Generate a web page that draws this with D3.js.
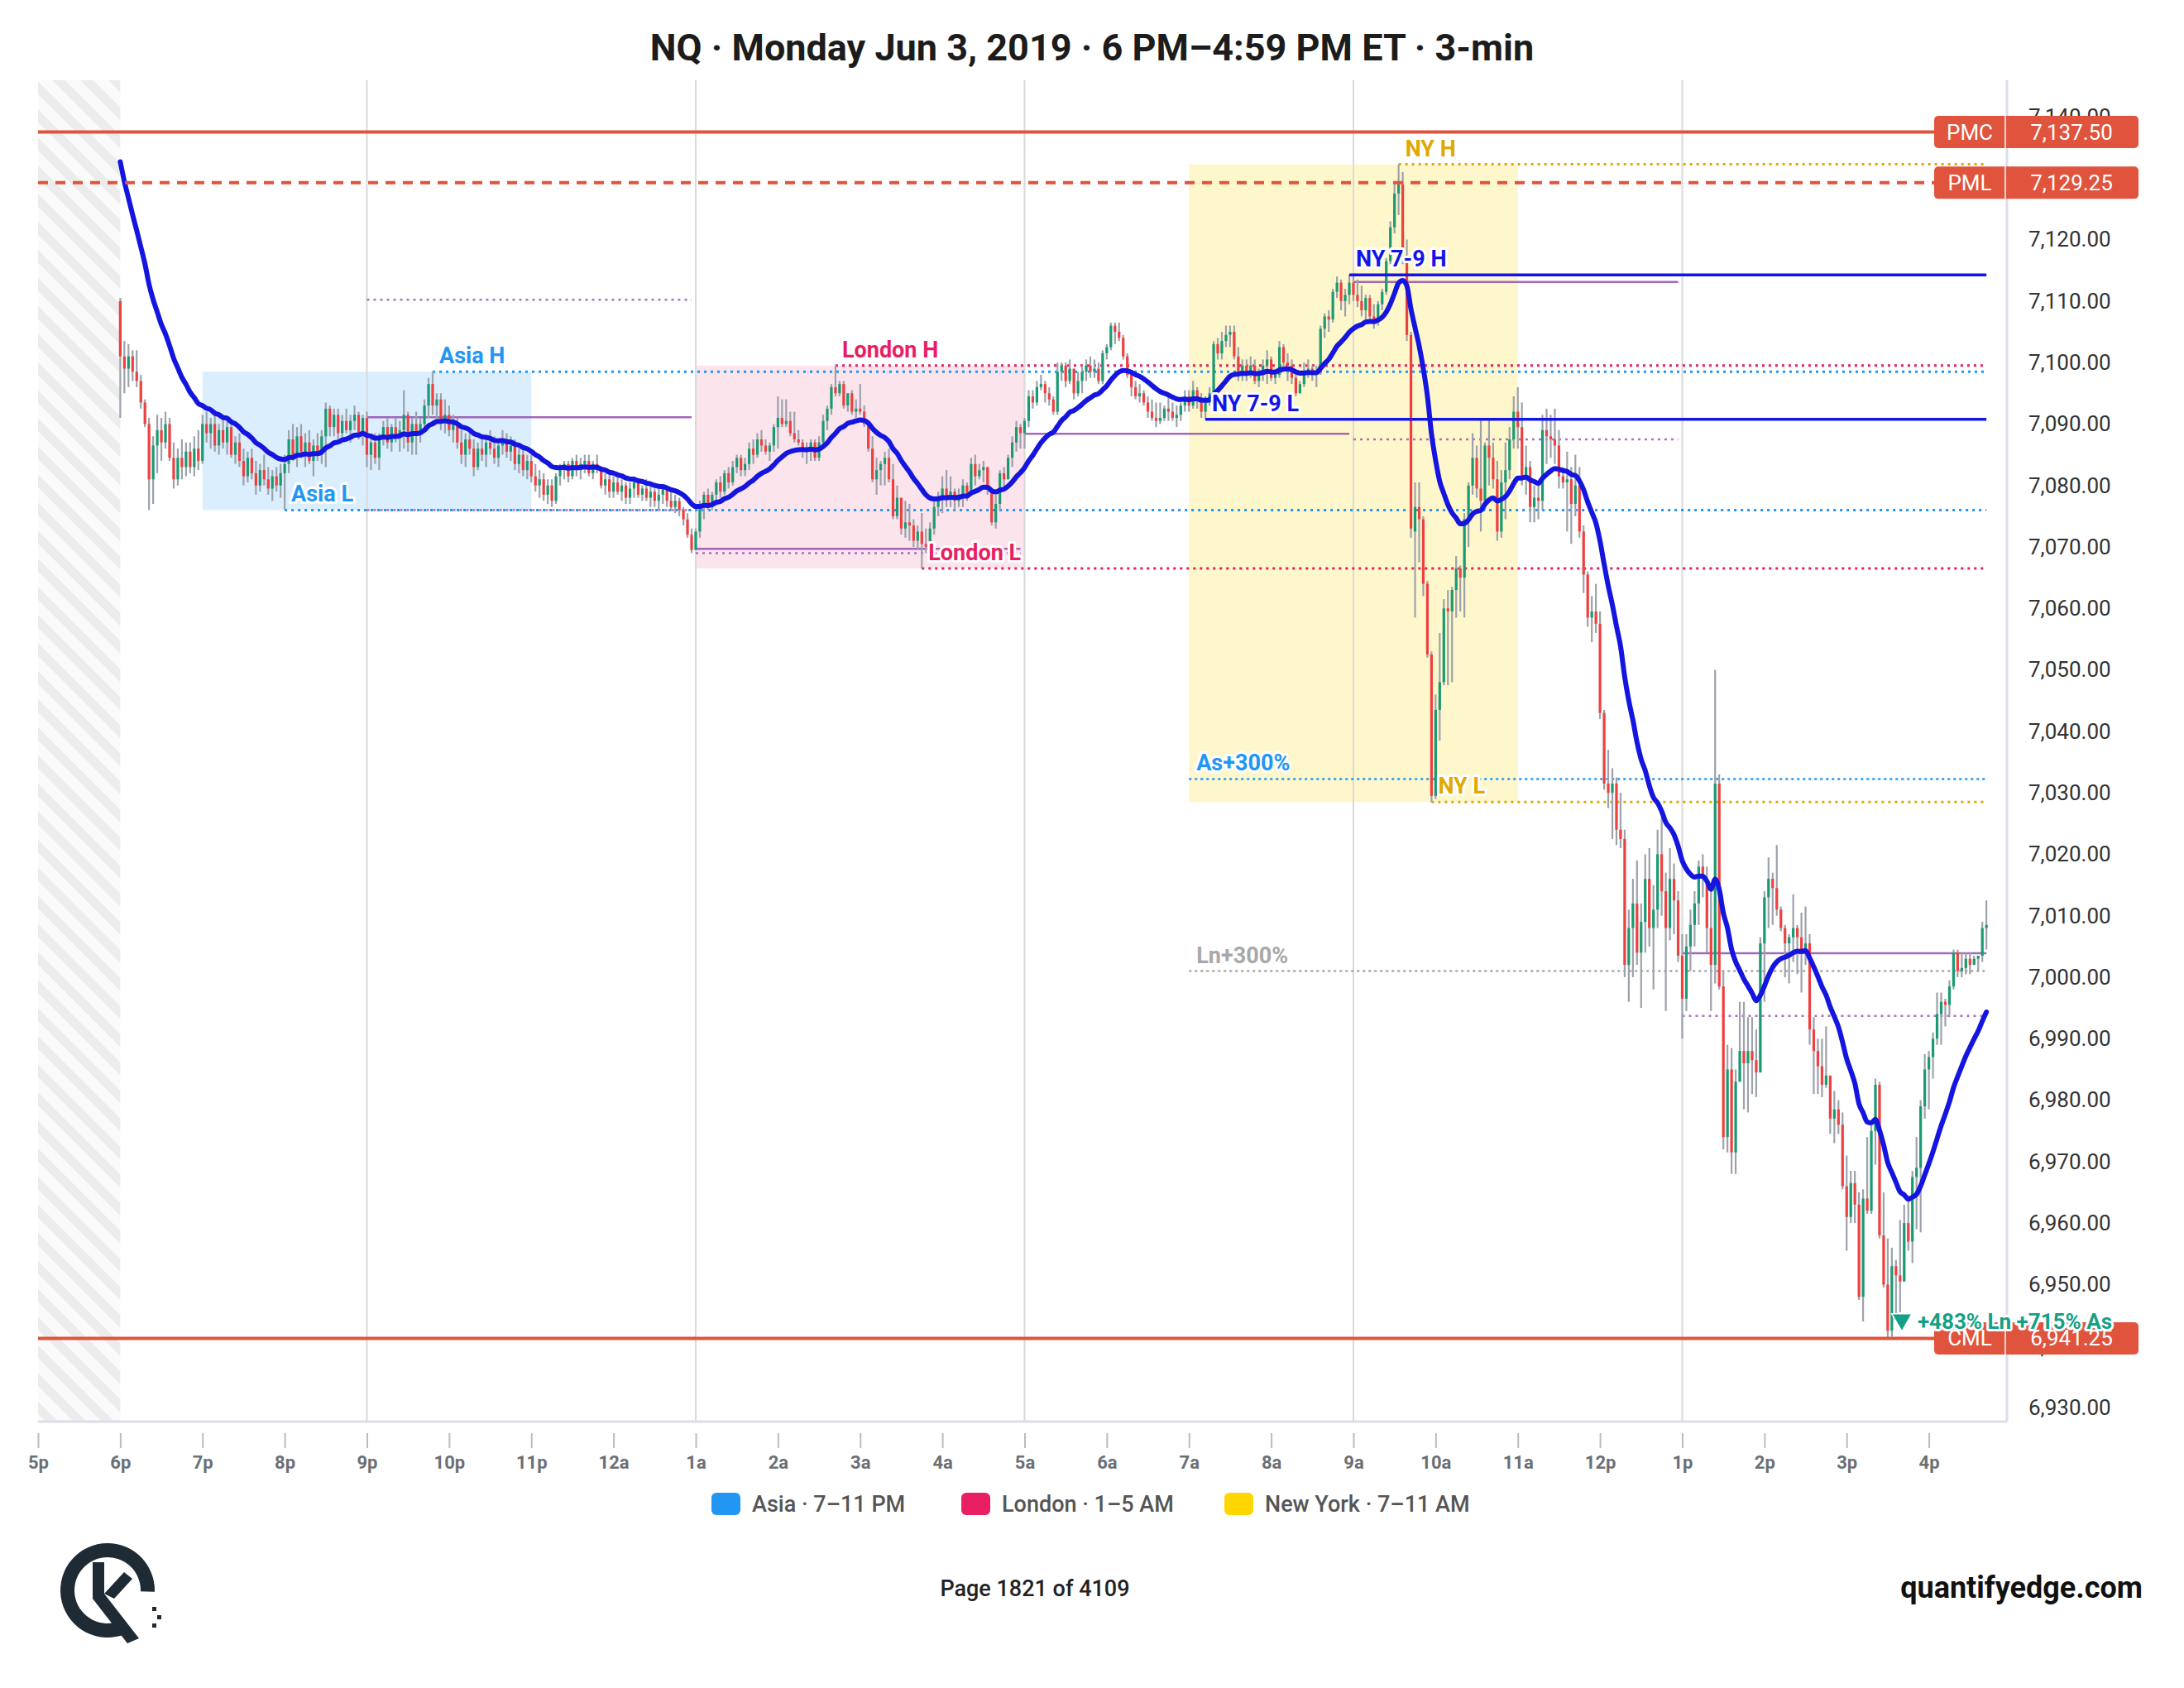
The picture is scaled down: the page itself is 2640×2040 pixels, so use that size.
<!DOCTYPE html>
<html><head><meta charset="utf-8">
<script src="https://cdn.jsdelivr.net/npm/d3@7"></script>
<style>
body{margin:0;background:#fff;}
svg{display:block;font-family:Roboto,"Noto Sans",sans-serif;}
</style></head><body>
<svg id="chart" width="2640" height="2040"></svg>
<script>
// ---------------- DATA ----------------
// 3-minute bars [open, high, low, close], first bar 6:00 PM ET, grouped by hour
const b18=[[7110,7110.5,7091,7101],[7101,7103.5,7095,7099],[7099,7103,7096,7101],[7101,7102,7097,7098.5],[7098.5,7102,7096,7097],[7097,7098,7092.5,7093.5],[7093.5,7094,7089.5,7090],[7090,7091,7076,7081],[7081,7088,7077,7086.5],[7086.5,7091.5,7082,7089],[7089,7091,7084,7087],[7087,7092,7086,7090],[7090,7091,7084,7084.5],[7084.5,7087,7079.5,7081],[7081,7086,7080,7084.5],[7084.5,7087.5,7081,7083],[7083,7087,7081.5,7085.5],[7085.5,7087,7082,7083],[7083,7088,7081.5,7086],[7086,7089,7082.5,7084]];
const b19=[[7084,7091.5,7083.5,7090],[7090,7092,7087,7088.5],[7088.5,7091,7086,7090],[7090,7091.5,7085.5,7086.5],[7086.5,7090,7085,7089],[7089,7091,7086,7087],[7087,7090.5,7085,7089.5],[7089.5,7090.5,7084.5,7085],[7085,7088,7083.5,7087],[7087,7088.5,7083,7084],[7084,7086,7080,7081.5],[7081.5,7085.5,7080.5,7084.5],[7084.5,7086,7081,7082],[7082,7084,7078.5,7080],[7080,7083.5,7079,7082.5],[7082.5,7085,7080,7081],[7081,7083,7078.5,7079.5],[7079.5,7082.5,7077.5,7081.5],[7081.5,7083,7079,7080],[7080,7083.5,7078,7082]];
const b20=[[7082,7085,7076,7083.5],[7083.5,7089,7082,7087.5],[7087.5,7090,7084,7085],[7085,7089.5,7083,7088],[7088,7090,7084.5,7085.5],[7085.5,7088.5,7083,7087],[7087,7089,7083.5,7084],[7084,7087.5,7081.5,7086.5],[7086.5,7088.5,7084,7085],[7085,7089,7083.5,7088],[7088,7093.5,7083,7092.5],[7092.5,7093,7088,7089.5],[7089.5,7092.5,7088,7091.5],[7091.5,7092.5,7087,7088.5],[7088.5,7091.5,7087.5,7090.5],[7090.5,7092.5,7088.5,7089],[7089,7091.5,7087,7090.5],[7090.5,7093,7089,7091.5],[7091.5,7092,7087.5,7088.5],[7088.5,7091.5,7086.5,7091]];
const b21=[[7091,7092,7083,7085],[7085,7088,7082.5,7087],[7087,7088.5,7083.5,7084.5],[7084.5,7088.5,7082.5,7088],[7088,7090.5,7086.5,7089.5],[7089.5,7091,7086,7087],[7087,7090,7085.5,7089.5],[7089.5,7091,7087,7088],[7088,7090.5,7085.5,7089],[7089,7095.5,7086,7091.5],[7091.5,7092,7085.5,7087],[7087,7091,7085,7090],[7090,7092,7085,7088.5],[7088.5,7091,7087,7090],[7090,7094,7089,7093],[7093,7097.5,7091,7096.5],[7096.5,7098.5,7091.5,7093],[7093,7095,7090,7094],[7094,7095,7089,7090.5],[7090.5,7094,7088.5,7091.5]];
const b22=[[7091.5,7093,7088,7089],[7089,7091.5,7087,7090],[7090,7091,7086,7087],[7087,7089,7083.5,7085],[7085,7088.5,7083,7087.5],[7087.5,7089,7085,7086],[7086,7087.5,7081.5,7083],[7083,7087,7082.5,7086],[7086,7088,7084,7085],[7085,7087.5,7083,7087],[7087,7089,7085,7086],[7086,7088,7083.5,7084.5],[7084.5,7087,7083,7086.5],[7086.5,7089,7085,7087.5],[7087.5,7088.5,7084.5,7085.5],[7085.5,7088,7084,7086.5],[7086.5,7087.5,7082.5,7083.5],[7083.5,7086,7082,7085],[7085,7086,7081.5,7082.5],[7082.5,7085,7081,7084]];
const b23=[[7084,7085,7080.5,7081.5],[7081.5,7083.5,7079,7080],[7080,7082.5,7078,7081],[7081,7082,7077.5,7078.5],[7078.5,7081,7077,7080],[7080,7081,7076.5,7077.5],[7077.5,7082,7077,7081.5],[7081.5,7083.5,7080,7082.5],[7082.5,7084,7081,7083.5],[7083.5,7084,7080.5,7081.5],[7081.5,7084.5,7081,7084],[7084,7085,7081.5,7082.5],[7082.5,7084.5,7081,7083.5],[7083.5,7085,7082,7084],[7084,7085,7081.5,7082],[7082,7084,7081,7083.5],[7083.5,7085,7082,7082.5],[7082.5,7083,7079.5,7080],[7080,7082,7078.5,7081],[7081,7082,7078,7079]];
const b00=[[7079,7081.5,7078,7080.5],[7080.5,7081.5,7078.5,7079],[7079,7081,7077.5,7080],[7080,7080.5,7077,7078],[7078,7080.5,7077,7079.5],[7079.5,7081.5,7078,7080.5],[7080.5,7081,7078,7078.5],[7078.5,7080,7077.5,7079.5],[7079.5,7081,7077.5,7078],[7078,7080,7076.5,7079],[7079,7079.5,7076.5,7077.5],[7077.5,7079.5,7076,7078.5],[7078.5,7080,7077,7079.5],[7079.5,7080,7076.5,7077.5],[7077.5,7079,7076,7076.5],[7076.5,7078.5,7075.5,7077.5],[7077.5,7078,7075,7076],[7076,7076.5,7073.5,7074.5],[7074.5,7075.5,7071.5,7072],[7072,7073,7069,7069.5]];
const b01=[[7069.5,7073,7069.5,7072.5],[7072.5,7077.5,7071.5,7076.5],[7076.5,7079,7074.5,7078.5],[7078.5,7079.5,7076,7076.5],[7076.5,7079,7076,7078.5],[7078.5,7081,7077.5,7080.5],[7080.5,7081.5,7078,7079],[7079,7082.5,7078.5,7082],[7082,7083,7079.5,7080.5],[7080.5,7084,7080,7083],[7083,7085,7082,7084.5],[7084.5,7085,7081.5,7082.5],[7082.5,7084.5,7081.5,7083.5],[7083.5,7087,7082.5,7086],[7086,7087.5,7083.5,7085],[7085,7088.5,7084.5,7087.5],[7087.5,7089,7085.5,7086.5],[7086.5,7087.5,7085,7085.5],[7085.5,7087,7084,7086.5],[7086.5,7090,7085.5,7089.5]];
const b02=[[7089.5,7094.5,7086,7091],[7091,7094,7089.5,7090],[7090,7094,7089.5,7090.5],[7090.5,7092,7088,7088.5],[7088.5,7092,7087,7087.5],[7087.5,7089,7086.5,7087],[7087,7087.5,7084.5,7086],[7086,7087,7083.5,7085.5],[7085.5,7087.5,7084,7087],[7087,7087.5,7084,7084.5],[7084.5,7088,7084,7087],[7087,7091.5,7086.5,7090.5],[7090.5,7093,7089,7092.5],[7092.5,7096.5,7091.5,7096],[7096,7099.5,7094.5,7095],[7095,7097,7094.5,7096.5],[7096.5,7097,7092.5,7093],[7093,7095,7092,7095],[7095,7095.5,7091.5,7092],[7092,7094,7091,7092.5]];
const b03=[[7092.5,7096.5,7091.5,7092],[7092,7093,7089.5,7090],[7090,7090.5,7085.5,7086],[7086,7088,7080.5,7081],[7081,7084.5,7078.5,7082.5],[7082.5,7084,7080,7083.5],[7083.5,7085.5,7080,7084.5],[7084.5,7086,7080.5,7081],[7081,7083.5,7074.5,7075],[7075,7080,7074.5,7078],[7078,7078,7072,7073],[7073,7077.5,7071.5,7074],[7074,7077,7071,7073.5],[7073.5,7074.5,7070,7071],[7071,7073.5,7069.5,7072.5],[7072.5,7075.5,7066.5,7070.5],[7070.5,7073,7069,7070],[7070,7074,7070,7073],[7073,7077.5,7072,7076.5],[7076.5,7079,7075,7078]];
const b04=[[7078,7081.5,7075.5,7079.5],[7079.5,7082.5,7076.5,7078],[7078,7081.5,7076.5,7079],[7079,7079.5,7076,7077.5],[7077.5,7079.5,7076.5,7078.5],[7078.5,7081,7076.5,7080],[7080,7080.5,7077.5,7078.5],[7078.5,7084.5,7078.5,7083.5],[7083.5,7085,7080,7081.5],[7081.5,7083.5,7081,7082.5],[7082.5,7084,7080.5,7083],[7083,7083,7078.5,7079.5],[7079.5,7079.5,7073.5,7074],[7074,7078.5,7073,7077],[7077,7082.5,7076,7082],[7082,7083,7079.5,7081],[7081,7085,7081,7084.5],[7084.5,7088,7083,7087],[7087,7090.5,7085.5,7089.5],[7089.5,7090,7086,7088.5]];
const b05=[[7088.5,7091,7086,7090.5],[7090.5,7095.5,7089.5,7094.5],[7094.5,7095.5,7092.5,7093.5],[7093.5,7097,7093,7096],[7096,7098,7095.5,7096.5],[7096.5,7097,7093.5,7095],[7095,7096,7093,7094],[7094,7094.5,7091.5,7092],[7092,7100,7091.5,7098.5],[7098.5,7100,7097,7099.5],[7099.5,7100,7096,7097],[7097,7100.5,7096.5,7099],[7099,7099,7094,7095],[7095,7098.5,7094.5,7097],[7097,7099.5,7095,7098.5],[7098.5,7100.5,7097,7099.5],[7099.5,7101,7097.5,7098.5],[7098.5,7100.5,7097.5,7099],[7099,7100,7096.5,7097],[7097,7102,7096.5,7101.5]];
const b06=[[7101.5,7103,7100.5,7102.5],[7102.5,7106.5,7102,7106],[7106,7106.5,7103,7105],[7105,7106.5,7103.5,7104],[7104,7104.5,7100.5,7101],[7101,7101.5,7097.5,7098],[7098,7098.5,7094.5,7096],[7096,7097,7094,7094.5],[7094.5,7096.5,7093.5,7095],[7095,7095.5,7093,7093.5],[7093.5,7094.5,7091,7092],[7092,7094,7090.5,7091],[7091,7093.5,7089.5,7090.5],[7090.5,7093.5,7090,7091],[7091,7093,7090.5,7092.5],[7092.5,7095,7090.5,7092],[7092,7093.5,7090.5,7091],[7091,7093,7089.5,7091.5],[7091.5,7093.5,7090.5,7093],[7093,7095.5,7092,7094.5]];
const b07=[[7094.5,7095.5,7092,7093],[7093,7097,7092.5,7095.5],[7095.5,7096,7092.5,7094],[7094,7095,7091,7092],[7092,7094.5,7090.75,7093.5],[7093.5,7096,7093,7095],[7095,7103.5,7094.5,7103],[7103,7104,7100.5,7101.5],[7101.5,7105,7100.5,7103.5],[7103.5,7106,7102.5,7104.5],[7104.5,7106,7102.5,7105],[7105,7106,7100.5,7101],[7101,7102.5,7097,7098.5],[7098.5,7100.5,7097,7099.5],[7099.5,7100.5,7097,7098],[7098,7101,7097.5,7099.5],[7099.5,7100.5,7096.5,7097],[7097,7099,7096,7098.5],[7098.5,7100.5,7097,7099.5],[7099.5,7102,7096.5,7100.5]];
const b08=[[7100.5,7101,7097,7097.5],[7097.5,7099,7096.5,7098],[7098,7103.5,7097.5,7102.5],[7102.5,7103,7098.5,7100],[7100,7101.5,7097,7099.5],[7099.5,7100.5,7096.5,7097.5],[7097.5,7098.5,7094.5,7095],[7095,7097,7095,7096.5],[7096.5,7100,7096,7098.5],[7098.5,7100.5,7097.5,7099],[7099,7099.5,7097,7098],[7098,7099.5,7096,7098.5],[7098.5,7106,7098,7105.5],[7105.5,7108,7104,7107.5],[7107.5,7108.5,7105,7107],[7107,7112,7106.5,7111.5],[7111.5,7114,7110.5,7113],[7113,7113.5,7108.5,7110],[7110,7112,7107.5,7111],[7111,7114.25,7109.5,7113]];
const b09=[[7113,7114.5,7110,7111],[7111,7113.5,7109,7110],[7110,7112.5,7107.5,7108.5],[7108.5,7111,7107,7110.5],[7110.5,7111,7106.5,7107.5],[7107.5,7109.5,7105.5,7106.5],[7106.5,7110,7106,7109.5],[7109.5,7112,7108.5,7111.5],[7111.5,7117,7111,7116.5],[7116.5,7123,7116,7122],[7122,7129,7121,7127.5],[7127.5,7132.25,7124,7129],[7129,7131,7116,7117],[7117,7120,7103.5,7104.5],[7104.5,7105,7071.5,7073],[7072.5,7080.5,7058.5,7076.5],[7076.5,7080.5,7067.5,7074.5],[7074.5,7075,7062,7064],[7064,7064.5,7052,7052.5],[7052.5,7053,7028.5,7029.5]];
const b10=[[7029.5,7046,7029,7043.5],[7043.5,7056,7038.5,7048],[7048,7061.5,7047.5,7060],[7060,7063,7047.5,7059.5],[7059.5,7063.5,7048,7063],[7063,7068.5,7058.5,7066.5],[7066.5,7067,7059.5,7065],[7065,7075.5,7058.5,7074.5],[7074.5,7080.5,7070,7080],[7080,7088.5,7078.5,7084.5],[7084.5,7086.5,7078,7079.5],[7079.5,7091,7072.5,7077.5],[7077.5,7087,7076,7086.5],[7086.5,7091,7080,7084.5],[7084.5,7087,7079.5,7081],[7081,7084,7071,7072.5],[7072.5,7082.5,7071.5,7080.5],[7080.5,7087,7074.5,7082.5],[7082.5,7089.5,7081,7087.5],[7087.5,7094.5,7086,7092]];
const b11=[[7092,7096,7086,7089.5],[7089.5,7093.5,7080,7081.5],[7081.5,7086.5,7078.5,7083],[7083,7084,7074,7076.5],[7076.5,7080,7074,7078],[7078,7080.5,7074.5,7077.5],[7077.5,7091.5,7076,7089],[7089,7092.5,7083.5,7088],[7088,7091.5,7084.5,7087.5],[7087.5,7092.5,7083.5,7086.5],[7086.5,7089,7079.5,7081.5],[7081.5,7083,7079.5,7080.5],[7080.5,7085.5,7072.5,7081],[7081,7083,7070.5,7077],[7077,7085,7075,7080],[7080,7083,7071.5,7072.5],[7072.5,7073.5,7062.5,7065.5],[7065.5,7066,7057,7058.5],[7058.5,7062,7054.5,7059.5],[7059.5,7064,7056,7057.5]];
const b12=[[7057.5,7059.5,7042,7043],[7043,7043.5,7030.5,7031.5],[7031.5,7037,7027.5,7030],[7030,7034,7022.5,7031.5],[7031.5,7032.5,7021.5,7024],[7024,7030,7021,7022.5],[7022.5,7024,7000,7002],[7002,7011,6996,7008],[7008,7016,7000,7012],[7012,7019,7002,7004],[7004,7012,6995,7009],[7009,7020,7004,7016],[7016,7021,7005,7008],[7008,7015,6998,7011],[7011,7024,7008,7020],[7020,7026,7010,7014],[7014,7017,6994.5,7008],[7008,7021,7006,7016],[7016,7018.5,7007,7012.5],[7012.5,7014,7002.5,7003.5]];
const b13=[[7003.5,7007,6990,6996.5],[6996.5,7007,6994.5,7005],[7005,7011,7001,7008.5],[7008.5,7014,7005,7012],[7012,7019,7008.5,7018],[7018,7020,7013,7016],[7016,7018,7004,7008],[7008,7014,6994.5,7002],[7002,7050,6999,7031.5],[7031.5,7033,6998,6998.5],[6998.5,7001,6972,6974],[6974,6989,6971.5,6985],[6985,6988.5,6968,6971.5],[6971.5,6985,6968,6983],[6983,6996,6983,6988],[6988,6996,6978.5,6986],[6986,6993.5,6978,6988],[6988,6993.5,6981,6986.5],[6986.5,6991.5,6980.5,6984.5],[6984.5,7006.5,6984.5,7005.5]];
const b14=[[7005.5,7014,6996,7013],[7013,7019.5,7008,7016],[7016,7017,7008.5,7014.5],[7014.5,7021.5,7010,7011],[7011,7011.5,7007.5,7008],[7008,7008.5,7000,7005.5],[7005.5,7007,6999,7006.5],[7006.5,7013.5,7002.5,7008],[7008,7008.5,7000.5,7006.5],[7006.5,7010.5,6997.5,7004],[7004,7011.5,7002,7005.5],[7005.5,7007,6989,6991.5],[6991.5,6993.5,6981,6988],[6988,6990,6981,6985.5],[6985.5,6990,6980.5,6982.5],[6982.5,6992,6982,6984],[6984,6984,6974.5,6977],[6977,6981.5,6973,6978.5],[6978.5,6980,6974.5,6976],[6976,6978,6965.5,6966]];
const b15=[[6966,6971,6955.5,6961],[6961,6968.5,6960,6966.5],[6966.5,6968.5,6960,6963],[6963,6965,6947.5,6948],[6948,6965.5,6944,6964],[6964,6974,6961.5,6962],[6962,6976.5,6961.5,6975],[6975,6983.5,6969.5,6982.5],[6982.5,6983,6957.5,6958],[6958,6965,6949.5,6950],[6950,6957.5,6941.25,6942.5],[6942.5,6956,6941.5,6953],[6953,6954,6944,6951.5],[6951.5,6960.5,6945.5,6950.5],[6950.5,6963,6950.5,6960],[6960,6964.5,6955.5,6957],[6957,6968.5,6953.5,6967.5],[6967.5,6974,6959,6969],[6969,6980,6958.5,6979],[6979,6987.5,6977,6985]];
const b16=[[6985,6988,6978.5,6987],[6987,6991,6983.5,6990],[6990,6997.5,6989,6994],[6994,6997.5,6989,6996],[6996,6996.5,6992,6995.5],[6995.5,6999.5,6993.5,6998.5],[6998.5,7004.5,6998,7004],[7004,7004.5,7000,7001],[7001,7004,7000,7001.5],[7001.5,7004,7000.5,7003],[7003,7004,7000.5,7002],[7002,7003.5,7002,7003],[7003,7003.5,7001,7003.5],[7003.5,7009,7002.5,7008],[7008,7012.5,7004.5,7008.5]];

const barMinutes = 3;            // bar size
const firstBarMin = 60;          // first bar at 6 PM = 60 min after 5 PM
const emaPeriod = 20;
const emaPrior = 7136;           // moving average value carried in from prior session

// x-axis hour labels (5 PM .. 4 PM)
const hourLabels = ["5p","6p","7p","8p","9p","10p","11p","12a","1a","2a","3a","4a","5a","6a","7a","8a","9a","10a","11a","12p","1p","2p","3p","4p"];
const gridHours = [4, 8, 12, 16, 20];   // hours after 5 PM with vertical grid lines
const yTicks = d3.range(6930, 7140.01, 10);

// sessions
const sessionNames = ["Asia · 7–11 PM","London · 1–5 AM","New York · 7–11 AM"];
const sessionStartMin = [120, 480, 840];
const sessionEndMin = [360, 720, 1080];
const sessionHigh = [7098.5, 7099.5, 7132.25];
const sessionLow = [7076, 7066.5, 7028.5];

// session level lines (label, value, bar where level was set)
const levelLabels = ["Asia H","Asia L","London H","London L","NY H","NY L","NY 7-9 H","NY 7-9 L"];
const levelValues = [7098.5, 7076, 7099.5, 7066.5, 7132.25, 7028.5, 7114.25, 7090.75];
const levelBars = [76, 40, 174, 195, 311, 319, 299, 264];
const levelKind = ["asia","asia","london","london","ny","ny","ny79","ny79"];

// range extensions from 7 AM
const extLabels = ["As+300%","Ln+300%"];
const extValues = [7032.25, 7001];
const extStartMin = 840;

// prior / current day markers
const markLabels = ["PMC","PML","CML"];
const markValues = [7137.5, 7129.25, 6941.25];

// 4-hour block levels (purple)
const blockSolidValues = [7091.1, 7069.7, 7088.4, 7113.1, 7003.9];
const blockSolidBars = [[60,139],[140,219],[220,299],[300,379],[380,454]];
const blockDotValues = [7110.2, 7076, 7069, 7087.5, 6993.7];
const blockDotBars = [[60,139],[60,139],[140,219],[300,379],[380,454]];

const lowBar = 430;
const lowNote = "+483% Ln +715% As";

const pageText = "Page 1821 of 4109";
const siteText = "quantifyedge.com";
const titleText = "NQ · Monday Jun 3, 2019 · 6 PM–4:59 PM ET · 3-min";

// ---------------- CHART ----------------
const bars = [].concat(b18,b19,b20,b21,b22,b23,b00,b01,b02,b03,b04,b05,b06,b07,b08,b09,b10,b11,b12,b13,b14,b15,b16);

const P = {left:46, right:2426, top:97, bottom:1718};
const x = d3.scaleLinear().domain([0, 1437]).range([P.left, P.right]);
const y = d3.scaleLinear().domain([6930, 7140]).range([1701, 141]);
const bx = i => x(firstBarMin + barMinutes * i);
const lastX = bx(bars.length - 1);

const COL = {
  asia:"#2196f3", london:"#e91e63", ny:"#e0a800", ny79:"#1414e6",
  up:"#1a9a72", down:"#ef4040", wick:"#9ca2ab", purple:"#8e44ad",
  mark:"#e0533d", ema:"#1515e0", grid:"#d9d9d9", gray:"#a8a8a8"
};
const sessionFill = ["rgba(33,150,243,0.16)","rgba(233,30,99,0.12)","rgba(255,214,0,0.2)"];
const sessionSwatch = ["#2196f3","#e91e63","#ffd600"];

const svg = d3.select("#chart");
svg.append("rect").attr("width",2640).attr("height",2040).attr("fill","#fff");

// hatch pattern for pre-open
const defs = svg.append("defs");
const pat = defs.append("pattern").attr("id","hatch").attr("patternUnits","userSpaceOnUse")
  .attr("width",24).attr("height",24).attr("patternTransform","rotate(-45)");
pat.append("rect").attr("width",24).attr("height",24).attr("fill","#fafafa");
pat.append("rect").attr("width",11).attr("height",24).attr("fill","#ececec");

svg.append("rect").attr("x",x(0)).attr("y",P.top).attr("width",x(60)-x(0)).attr("height",P.bottom-P.top).attr("fill","url(#hatch)");

// session boxes
sessionNames.forEach((s,k)=>{
  svg.append("rect").attr("x",x(sessionStartMin[k])).attr("y",y(sessionHigh[k]))
    .attr("width",x(sessionEndMin[k])-x(sessionStartMin[k]))
    .attr("height",y(sessionLow[k])-y(sessionHigh[k])).attr("fill",sessionFill[k]);
});

// vertical grid
gridHours.forEach(h=>{
  svg.append("line").attr("x1",x(h*60)).attr("x2",x(h*60)).attr("y1",P.top).attr("y2",P.bottom)
    .attr("stroke",COL.grid).attr("stroke-width",2);
});
// frame (right & bottom)
svg.append("line").attr("x1",P.right).attr("x2",P.right).attr("y1",P.top).attr("y2",P.bottom).attr("stroke","#dcdde6").attr("stroke-width",3);
svg.append("line").attr("x1",P.left).attr("x2",P.right).attr("y1",P.bottom).attr("y2",P.bottom).attr("stroke","#dcdde6").attr("stroke-width",3);

// purple block levels
blockSolidValues.forEach((v,k)=>{
  svg.append("line").attr("x1",bx(blockSolidBars[k][0])).attr("x2",bx(blockSolidBars[k][1]))
    .attr("y1",y(v)).attr("y2",y(v)).attr("stroke",COL.purple).attr("stroke-width",2.5).attr("opacity",0.8);
});
blockDotValues.forEach((v,k)=>{
  svg.append("line").attr("x1",bx(blockDotBars[k][0])).attr("x2",bx(blockDotBars[k][1]))
    .attr("y1",y(v)).attr("y2",y(v)).attr("stroke",COL.purple).attr("stroke-width",2.5)
    .attr("stroke-dasharray","3,5").attr("opacity",0.75);
});

// extension lines
extValues.forEach((v,k)=>{
  svg.append("line").attr("x1",x(extStartMin)).attr("x2",lastX).attr("y1",y(v)).attr("y2",y(v))
    .attr("stroke",k===0?COL.asia:COL.gray).attr("stroke-width",2.5).attr("stroke-dasharray","3,4");
});

// dotted session levels
levelValues.forEach((v,k)=>{
  if(levelKind[k]==="ny79") return;
  svg.append("line").attr("x1",bx(levelBars[k])).attr("x2",lastX).attr("y1",y(v)).attr("y2",y(v))
    .attr("stroke",COL[levelKind[k]]).attr("stroke-width",3).attr("stroke-dasharray","3,5");
});

// candles
const cg = svg.append("g");
bars.forEach((b,i)=>{
  const [o,h,l,c] = b;
  const hx = bx(i);
  cg.append("line").attr("x1",hx).attr("x2",hx).attr("y1",y(Math.max(h,o,c))).attr("y2",y(Math.min(l,o,c)))
    .attr("stroke",COL.wick).attr("stroke-width",2.2);
  const top = y(Math.max(o,c)), bot = y(Math.min(o,c));
  cg.append("rect").attr("x",hx-1.6).attr("width",3.2).attr("y",top).attr("height",Math.max(bot-top,1.5))
    .attr("fill", c>o?COL.up:(c<o?COL.down:COL.wick));
});

// NY 7-9 solid lines
levelValues.forEach((v,k)=>{
  if(levelKind[k]!=="ny79") return;
  svg.append("line").attr("x1",bx(levelBars[k])).attr("x2",lastX).attr("y1",y(v)).attr("y2",y(v))
    .attr("stroke",COL.ny79).attr("stroke-width",3.5);
});

// EMA
let e = emaPrior;
const ema = bars.map(b => (e = e + (b[3]-e)*2/(emaPeriod+1)));
svg.append("path").datum(ema)
  .attr("d", d3.line().x((d,i)=>bx(i)).y(d=>y(d)).curve(d3.curveMonotoneX))
  .attr("fill","none").attr("stroke",COL.ema).attr("stroke-width",6).attr("stroke-linejoin","round").attr("stroke-linecap","round");

// PMC / PML / CML
markValues.forEach((v,k)=>{
  svg.append("line").attr("x1",P.left).attr("x2",2340).attr("y1",y(v)).attr("y2",y(v))
    .attr("stroke",COL.mark).attr("stroke-width",4).attr("stroke-dasharray",k===1?"12,9":null);
});

// labels with halo
function haloText(t, xx, yy, color, size, weight){
  return svg.append("text").attr("x",xx).attr("y",yy).text(t).attr("fill",color)
    .attr("font-size",size).attr("font-weight",weight||700)
    .attr("stroke","#fff").attr("stroke-width",6).attr("stroke-linejoin","round").attr("paint-order","stroke");
}
levelLabels.forEach((t,k)=>{
  haloText(t, bx(levelBars[k])+8, y(levelValues[k])-10, COL[levelKind[k]], 27);
});
extLabels.forEach((t,k)=>{
  haloText(t, x(extStartMin)+9, y(extValues[k])-10, k===0?COL.asia:COL.gray, 27);
});

// y axis
const yAxis = d3.axisRight(y).tickValues(yTicks).tickFormat(d3.format(",.2f")).tickSize(0).tickPadding(26);
const ga = svg.append("g").attr("transform",`translate(${P.right},0)`).call(yAxis);
ga.select(".domain").remove();
ga.selectAll("text").attr("font-size",26).attr("fill","#333").attr("font-family","Roboto");

// marker boxes
markValues.forEach((v,k)=>{
  const cy = y(v), bx0 = 2338, bw = 247, bh = 39;
  svg.append("rect").attr("x",bx0).attr("y",cy-bh/2).attr("width",bw).attr("height",bh).attr("rx",5).attr("fill",COL.mark);
  svg.append("line").attr("x1",2424).attr("x2",2424).attr("y1",cy-bh/2).attr("y2",cy+bh/2).attr("stroke","#f6d5cf").attr("stroke-width",2);
  svg.append("text").attr("x",2381).attr("y",cy+9).attr("text-anchor","middle").attr("fill","#fff").attr("font-size",26).text(markLabels[k]);
  svg.append("text").attr("x",2504).attr("y",cy+9).attr("text-anchor","middle").attr("fill","#fff").attr("font-size",26).text(d3.format(",.2f")(v));
});

// low annotation (drawn over the CML box, as in the source)
const tx = bx(lowBar)+17, ty = y(markValues[2])-20;
svg.append("path").attr("d",`M${tx-11},${ty-9}L${tx+11},${ty-9}L${tx},${ty+10}Z`).attr("fill","#14a085")
  .attr("stroke","#fff").attr("stroke-width",3).attr("paint-order","stroke");
haloText(lowNote, tx+19, ty+9, "#14a085", 26);

// x axis
const xAxis = d3.axisBottom(x).tickValues(d3.range(0, 24*60, 60)).tickFormat((d,i)=>hourLabels[i]).tickSize(18).tickPadding(9);
const gx = svg.append("g").attr("transform",`translate(0,1732)`).call(xAxis);
gx.select(".domain").remove();
gx.selectAll("line").attr("stroke","#b8bcc4").attr("stroke-width",2);
gx.selectAll("text").attr("font-size",22).attr("font-weight",700).attr("fill","#6b6f76").attr("font-family","Roboto");

// title
svg.append("text").attr("x",1320).attr("y",73).attr("text-anchor","middle").attr("font-size",45).attr("font-weight",700).attr("fill","#1c1c1c").text(titleText);

// legend
const legX = [860, 1162, 1480];
sessionNames.forEach((s,k)=>{
  svg.append("rect").attr("x",legX[k]).attr("y",1804).attr("width",35).attr("height",27).attr("rx",6).attr("fill",sessionSwatch[k]);
  svg.append("text").attr("x",legX[k]+49).attr("y",1827).attr("font-size",27).attr("font-weight",500).attr("fill","#555").text(s);
});

// footer
svg.append("text").attr("x",1251).attr("y",1929).attr("text-anchor","middle").attr("font-size",27).attr("font-weight",500).attr("fill","#222").text(pageText);
svg.append("text").attr("x",2590).attr("y",1931).attr("text-anchor","end").attr("font-size",36).attr("font-weight",700).attr("fill","#111").text(siteText);

// logo
const lg = svg.append("g").attr("transform","translate(130,1922)").attr("fill","#1e2a34");
lg.append("path").attr("d", d3.arc()({innerRadius:40, outerRadius:57, startAngle:2.75, endAngle:2.75+2*Math.PI-1.15}));
lg.append("path").attr("d","M-18,-34 L-4,-34 L-4,4 L38,58 L24,64 L-18,10 Z");
lg.append("path").attr("d","M-4,4 L20,-22 L30,-14 L8,10 Z");
[[54,20],[60,30],[54,40]].forEach(p=>lg.append("rect").attr("x",p[0]).attr("y",p[1]).attr("width",5).attr("height",5));
</script></body></html>
